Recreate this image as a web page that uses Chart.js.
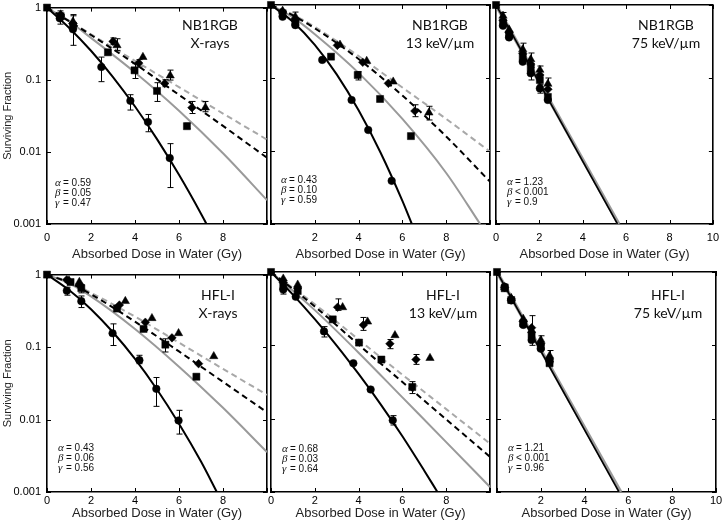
<!DOCTYPE html>
<html><head><meta charset="utf-8">
<script src="https://cdn.jsdelivr.net/npm/chart.js@4.4.1/dist/chart.umd.min.js"></script>
<style>
html,body{margin:0;padding:0;background:#fff;}
#wrap{position:relative;width:727px;height:526px;overflow:hidden;background:#fff;}
canvas{position:absolute;}
</style></head><body><div id="wrap"></div>
<script>
const doseTicks = [0, 2, 4, 6, 8, 10];
const fractionTicks = [0.001, 0.01, 0.1, 1];
const xTitle = 'Absorbed Dose in Water (Gy)';
const yTitle = 'Surviving Fraction';

// points: [dose, surviving fraction, error low, error high]
// Panel A: NB1RGB, X-rays
const nbXCircles = [[0.58,0.71,0.59,0.9],[1.18,0.50,0.30,0.77],[2.47,0.15,0.094,0.206],[3.79,0.051,0.038,0.062],[4.59,0.026,0.019,0.033],[5.58,0.0082,0.0032,0.013]];
const nbXSquares = [[0,1],[0.62,0.76],[1.18,0.56],[2.77,0.24],[3.98,0.135,0.104,0.167],[5.0,0.07,0.05,0.091],[6.36,0.0227,0.021,0.025]];
const nbXDiamonds = [[0.62,0.79],[1.18,0.6],[3.0,0.34,0.31,0.38],[4.17,0.17,0.15,0.19],[5.35,0.089,0.08,0.1],[6.59,0.041,0.034,0.05]];
const nbXTriangles = [[0.62,0.8],[1.18,0.64,0.5,0.8],[3.18,0.30,0.255,0.37],[4.36,0.206],[5.6,0.114,0.099,0.136],[7.2,0.041,0.036,0.05]];
const nbXFitBlack = [[0,1],[1,0.527],[2,0.252],[3,0.109],[4,0.0425],[5,0.015],[6,0.0048],[7,0.00139],[7.25,0.001]];
const nbXFitGray = [[0,1],[1,0.646],[2,0.38],[4,0.126],[6,0.0372],[8,0.00955],[10,0.00214]];
const nbXFitBlackDash = [[0,1],[1,0.65],[2,0.417],[4,0.166],[6,0.0617],[8,0.0229],[10,0.0083]];
const nbXFitGrayDash = [[0,1],[1,0.66],[2,0.427],[4,0.182],[6,0.079],[8,0.034],[10,0.0148]];

// Panel B: NB1RGB, 13 keV/um
const nbCCircles = [[0.53,0.69],[1.11,0.53],[2.34,0.177],[3.68,0.050],[4.44,0.0194],[5.51,0.0039]];
const nbCSquares = [[0,1],[0.53,0.77],[1.11,0.59],[2.74,0.196],[3.96,0.11,0.094,0.122],[4.98,0.0516],[6.39,0.016]];
const nbCDiamonds = [[0.53,0.81],[1.11,0.62],[3.03,0.28],[4.19,0.164],[5.36,0.0845],[6.57,0.0353,0.0295,0.043]];
const nbCTriangles = [[0.53,0.83],[1.11,0.69,0.6,0.8],[3.15,0.285],[4.37,0.171],[5.58,0.089],[7.21,0.0335,0.0266,0.041]];
const nbCFitBlack = [[0,1],[1,0.589],[2,0.284],[3,0.112],[4,0.0361],[5,0.00955],[6,0.00207],[6.43,0.001]];
const nbCFitGray = [[0,1],[1,0.676],[2,0.398],[4,0.1175],[6,0.0275],[8,0.005],[9.55,0.001]];
const nbCFitBlackDash = [[0,1],[1,0.72],[2,0.479],[4,0.182],[6,0.0575],[8,0.0158],[10,0.0038]];
const nbCFitGrayDash = [[0,1],[1,0.74],[2,0.5],[4,0.2],[6,0.074],[8,0.0275],[10,0.0098]];

// Panel C: NB1RGB, 75 keV/um
const nbHCircles = [[0.32,0.52],[0.6,0.36],[1.23,0.167],[1.6,0.116,0.094,0.14],[2.02,0.072,0.062,0.082],[2.39,0.05]];
const nbHSquares = [[0,1],[0.32,0.56],[0.6,0.39],[1.23,0.192],[1.6,0.136],[2.02,0.094],[2.39,0.055]];
const nbHDiamonds = [[0.32,0.62],[0.6,0.42],[1.23,0.218],[1.6,0.155],[2.02,0.11],[2.39,0.07]];
const nbHTriangles = [[0.32,0.71,0.62,0.79],[0.6,0.46],[1.23,0.247,0.21,0.3],[1.6,0.18,0.15,0.22],[2.02,0.129,0.11,0.146],[2.39,0.083,0.07,0.1]];
const nbHFitBlack = [[0,1],[5.6,0.001]];
const nbHFitGray = [[0,1],[5.66,0.001]];

// Panel D: HFL-I, X-rays
const hfXCircles = [[0.9,0.6,0.52,0.67],[1.56,0.43,0.351,0.507],[2.98,0.155,0.105,0.209],[4.2,0.066,0.059,0.077],[4.97,0.0265,0.0152,0.038],[5.98,0.0097,0.0063,0.0134]];
const hfXSquares = [[0,1],[1.07,0.79],[1.56,0.65,0.56,0.72],[3.18,0.34],[4.39,0.178],[5.38,0.108,0.0855,0.13],[6.79,0.039,0.036,0.042]];
const hfXDiamonds = [[0.9,0.85],[1.5,0.72],[3.29,0.38],[4.47,0.22],[5.68,0.134],[6.89,0.059]];
const hfXTriangles = [[1.0,0.83],[1.47,0.79],[3.56,0.43],[4.77,0.25],[5.98,0.155],[7.58,0.0746]];
const hfXFitBlack = [[0,1],[1,0.612],[2,0.333],[3,0.160],[4,0.0686],[5,0.026],[6,0.00875],[7,0.00263],[7.72,0.001]];
const hfXFitGray = [[0,1],[1,0.759],[2,0.501],[4,0.178],[6,0.0537],[8,0.0145],[10,0.00355]];
const hfXFitBlackDash = [[0,1],[1,0.776],[2,0.537],[4,0.224],[6,0.087],[8,0.0331],[10,0.0126]];
const hfXFitGrayDash = [[0,1],[1,0.794],[2,0.562],[4,0.263],[6,0.115],[8,0.05],[10,0.0219]];

// Panel E: HFL-I, 13 keV/um
const hfCCircles = [[0.56,0.575,0.5,0.66],[1.13,0.46],[2.42,0.155,0.13,0.18],[3.76,0.057],[4.55,0.025],[5.56,0.0095,0.0082,0.011]];
const hfCSquares = [[0,1],[0.56,0.64],[1.22,0.55],[2.82,0.226],[4.02,0.109],[5.04,0.064],[6.45,0.027,0.022,0.032]];
const hfCDiamonds = [[0.56,0.72],[1.22,0.6],[3.04,0.33,0.3,0.43],[4.22,0.19,0.16,0.24],[5.43,0.105,0.09,0.12],[6.62,0.064,0.055,0.075]];
const hfCTriangles = [[0.56,0.81],[1.22,0.67],[3.27,0.33],[4.41,0.21],[5.66,0.137],[7.26,0.067]];
const hfCFitBlack = [[0,1],[1,0.492],[2,0.2275],[3,0.0993],[4,0.0407],[5,0.0158],[6,0.00575],[7,0.00195],[7.6,0.001]];
const hfCFitGray = [[0,1],[2,0.302],[4,0.0794],[6,0.0195],[8,0.00479],[10,0.00117]];
const hfCFitBlackDash = [[0,1],[2,0.339],[4,0.102],[6,0.0316],[8,0.00977],[10,0.00302]];
const hfCFitGrayDash = [[0,1],[2,0.363],[4,0.12],[6,0.0398],[8,0.0135],[10,0.00457]];

// Panel F: HFL-I, 75 keV/um
const hfHCircles = [[0.35,0.63,0.56,0.68],[0.65,0.41],[1.2,0.19],[1.58,0.118],[2.0,0.09],[2.4,0.06]];
const hfHSquares = [[0,1],[0.35,0.6],[0.65,0.415],[1.2,0.2],[1.58,0.138],[2.0,0.096],[2.4,0.057]];
const hfHDiamonds = [[0.35,0.61],[0.65,0.43],[1.2,0.21],[1.58,0.174,0.1,0.254],[2.0,0.105],[2.4,0.065]];
const hfHTriangles = [[0.35,0.62],[0.65,0.44],[1.2,0.229],[1.58,0.16],[2.0,0.118,0.1,0.135],[2.4,0.072,0.06,0.085]];
const hfHFitBlack = [[0,1],[5.57,0.001]];
const hfHFitGray = [[0,1],[5.65,0.001]];

const panels = [
  {box:[47,5,267,224], row:0, showY:true, hideX:[10], cell:'NB1RGB', beam:'X-rays', lab:[210,25], par:[55,183],
   params:[['α','= 0.59'],['β','= 0.05'],['γ','= 0.47']],
   marks:[nbXCircles,nbXSquares,nbXDiamonds,nbXTriangles], fits:[nbXFitBlack,nbXFitBlackDash,nbXFitGray,nbXFitGrayDash]},
  {box:[271,5,490,224], row:0, showY:false, hideX:[0,10], cell:'NB1RGB', beam:'13 keV/µm', lab:[440,25], par:[281,180],
   params:[['α','= 0.43'],['β','= 0.10'],['γ','= 0.59']],
   marks:[nbCCircles,nbCSquares,nbCDiamonds,nbCTriangles], fits:[nbCFitBlack,nbCFitBlackDash,nbCFitGray,nbCFitGrayDash]},
  {box:[496,5,716,224], row:0, showY:false, hideX:[], cell:'NB1RGB', beam:'75 keV/µm', lab:[666,25], par:[507,182],
   params:[['α','= 1.23'],['β','< 0.001'],['γ','= 0.9']],
   marks:[nbHCircles,nbHSquares,nbHDiamonds,nbHTriangles], fits:[nbHFitBlack,null,nbHFitGray,null]},
  {box:[47,272,267,492], row:1, showY:true, hideX:[10], cell:'HFL-I', beam:'X-rays', lab:[218,295], par:[58,448],
   params:[['α','= 0.43'],['β','= 0.06'],['γ','= 0.56']],
   marks:[hfXCircles,hfXSquares,hfXDiamonds,hfXTriangles], fits:[hfXFitBlack,hfXFitBlackDash,hfXFitGray,hfXFitGrayDash]},
  {box:[271,272,490,492], row:1, showY:false, hideX:[10], cell:'HFL-I', beam:'13 keV/µm', lab:[443,295], par:[282,449],
   params:[['α','= 0.68'],['β','= 0.03'],['γ','= 0.64']],
   marks:[hfCCircles,hfCSquares,hfCDiamonds,hfCTriangles], fits:[hfCFitBlack,hfCFitBlackDash,hfCFitGray,hfCFitGrayDash]},
  {box:[497,272,716,492], row:1, showY:false, hideX:[0], cell:'HFL-I', beam:'75 keV/µm', lab:[668,295], par:[508,448],
   params:[['α','= 1.21'],['β','< 0.001'],['γ','= 0.96']],
   marks:[hfHCircles,hfHSquares,hfHDiamonds,hfHTriangles], fits:[hfHFitBlack,null,hfHFitGray,null]}
];

const markerStyles = [
  {pointStyle:'circle', radius:3.8},
  {pointStyle:'rect', radius:5},
  {pointStyle:'rectRot', radius:4.3},
  {pointStyle:'triangle', radius:4.8}
];
const fitStyles = [
  {color:'#000000', width:2, dash:[]},
  {color:'#000000', width:2, dash:[6,4]},
  {color:'#9a9a9a', width:2, dash:[]},
  {color:'#a8a8a8', width:2, dash:[6,4]}
];

const toPts = arr => arr.map(p => ({x:p[0], y:p[1], lo:p.length>2?p[2]:null, hi:p.length>3?p[3]:null}));

const frameBorder = {display:true, color:'#000000', width:1.6};

const decor = {
  id:'decor',
  afterDatasetsDraw(chart) {
    const ctx = chart.ctx, xs = chart.scales.x, ys = chart.scales.y, a = chart.chartArea;
    ctx.save();
    ctx.setLineDash([]);
    ctx.strokeStyle = '#000'; ctx.lineWidth = 1;
    chart.data.datasets.forEach(ds => {
      if (!ds.errBars) return;
      ds.data.forEach(p => {
        if (p.lo == null) return;
        const x = Math.round(xs.getPixelForValue(p.x)) + 0.5;
        const y1 = ys.getPixelForValue(p.lo), y2 = ys.getPixelForValue(p.hi);
        ctx.beginPath();
        ctx.moveTo(x, y1); ctx.lineTo(x, y2);
        ctx.moveTo(x-3, y1); ctx.lineTo(x+3, y1);
        ctx.moveTo(x-3, y2); ctx.lineTo(x+3, y2);
        ctx.stroke();
      });
    });
    // inward tick marks on all four sides
    ctx.beginPath();
    doseTicks.forEach(v => {
      const x = Math.round(xs.getPixelForValue(v)) + 0.5;
      ctx.moveTo(x, a.bottom); ctx.lineTo(x, a.bottom - 4);
      ctx.moveTo(x, a.top); ctx.lineTo(x, a.top + 4);
    });
    fractionTicks.forEach(v => {
      const y = Math.round(ys.getPixelForValue(v)) + 0.5;
      ctx.moveTo(a.left, y); ctx.lineTo(a.left + 4, y);
      ctx.moveTo(a.right, y); ctx.lineTo(a.right - 4, y);
    });
    ctx.stroke();
    ctx.restore();
  },
  afterDraw(chart, args, o) {
    const ctx = chart.ctx;
    ctx.save();
    const ox = o.ox, oy = o.oy;
    ctx.fillStyle = '#111';
    ctx.font = '14px Lato';
    ctx.textAlign = 'center';
    ctx.textBaseline = 'middle';
    ctx.fillText(o.cell, o.lab[0] - ox, o.lab[1] - oy);
    ctx.fillText(o.beam, o.lab[0] - ox, o.lab[1] + 18 - oy);
    ctx.textAlign = 'left';
    o.params.forEach((pr, i) => {
      const y = o.par[1] + i * 10 - oy;
      ctx.font = 'italic 11px "Liberation Serif"';
      ctx.fillText(pr[0], o.par[0] - ox, y);
      ctx.font = '10px "Liberation Sans"';
      ctx.fillText(pr[1], o.par[0] + 8 - ox, y);
    });
    ctx.restore();
  }
};

const wrap = document.getElementById('wrap');
panels.forEach(p => {
  const [L, T, R, B] = p.box;
  const left = p.showY ? 0 : L - 10;
  const top = T - 10;
  const right = Math.min(R + 10, 727);
  const bottom = p.row === 0 ? 262 : 526;
  const cv = document.createElement('canvas');
  cv.width = right - left; cv.height = bottom - top;
  cv.style.left = left + 'px'; cv.style.top = top + 'px';
  cv.style.width = (right - left) + 'px'; cv.style.height = (bottom - top) + 'px';
  wrap.appendChild(cv);
  const state = {axisH: bottom - B};
  const datasets = [];
  p.marks.forEach((m, i) => {
    datasets.push({
      data: toPts(m), showLine:false, errBars:true, xAxisID:'x', yAxisID:'y',
      pointStyle: markerStyles[i].pointStyle, pointRadius: markerStyles[i].radius,
      pointBackgroundColor:'#000', pointBorderColor:'#000', pointBorderWidth:0.5,
      clip:false
    });
  });
  p.fits.forEach((f, i) => {
    if (!f) return;
    datasets.push({
      data: toPts(f), showLine:true, pointRadius:0, fill:false, xAxisID:'x', yAxisID:'y',
      borderColor: fitStyles[i].color, borderWidth: (p.fits[1] ? fitStyles[i].width : (i === 2 ? 3.5 : 1.6)),
      borderDash: fitStyles[i].dash, cubicInterpolationMode:'monotone'
    });
  });
  const pad = {left: p.showY ? 0 : 10, right: right - R, top:10, bottom:0};
  const yAxis = {type:'logarithmic', position:'left', min:0.001, max:1,
    afterBuildTicks: s => { s.ticks = fractionTicks.map(v => ({value:v})); },
    grid:{display:false, drawTicks:false}, border:frameBorder,
    ticks:{display:p.showY, color:'#000', font:{family:'"Liberation Sans"', size:11}, padding:6,
      callback: v => String(v)},
    title:{display:p.showY, text:yTitle, color:'#222', font:{family:'"Liberation Sans"', size:11}, padding:{top:1,bottom:0}}
  };
  if (p.showY) yAxis.afterFit = s => { s.width = 47; };
  const cfg = {
    type:'scatter',
    data:{datasets},
    options:{
      responsive:false, animation:false, devicePixelRatio:1,
      layout:{padding:pad},
      plugins:{legend:{display:false}, tooltip:{enabled:false},
        decor:{ox:left, oy:top, cell:p.cell, beam:p.beam, lab:p.lab, par:p.par, params:p.params}},
      scales:{
        x:{type:'linear', position:'bottom', min:0, max:10,
          afterBuildTicks: s => { s.ticks = doseTicks.map(v => ({value:v})); },
          afterFit: s => { s.height = state.axisH; },
          grid:{display:false, drawTicks:false}, border:frameBorder,
          ticks:{color:'#000', font:{family:'"Liberation Sans"', size:11}, padding: p.row === 0 ? 7 : 2,
            maxRotation:0, autoSkip:false,
            callback: v => p.hideX.includes(v) ? '' : String(v)},
          title:{display:true, text:xTitle, color:'#222', font:{family:'"Liberation Sans"', size:13},
            padding:{top:0, bottom: p.row === 0 ? 0 : 5}}
        },
        y: yAxis,
        xTop:{type:'linear', position:'top', min:0, max:10,
          afterBuildTicks: s => { s.ticks = doseTicks.map(v => ({value:v})); },
          afterFit: s => { s.height = 0; },
          grid:{display:false, drawTicks:false}, border:frameBorder, ticks:{display:false}},
        yRight:{type:'logarithmic', position:'right', min:0.001, max:1,
          afterBuildTicks: s => { s.ticks = fractionTicks.map(v => ({value:v})); },
          afterFit: s => { s.width = 0; },
          grid:{display:false, drawTicks:false}, border:frameBorder, ticks:{display:false}}
      }
    },
    plugins:[decor]
  };
  const chart = new Chart(cv, cfg);
  for (let k = 0; k < 4; k++) {
    const a = chart.chartArea;
    const dT = (T - top) - a.top;
    const dL = (L - left) - a.left;
    const dR = a.right - (R - left);
    const dB = (B - top) - a.bottom;
    if (Math.abs(dT) < 0.05 && Math.abs(dL) < 0.05 && Math.abs(dR) < 0.05 && Math.abs(dB) < 0.05) break;
    pad.top += dT; pad.left += dL; pad.right += dR;
    state.axisH -= dB;
    chart.update();
  }
});
</script></body></html>
